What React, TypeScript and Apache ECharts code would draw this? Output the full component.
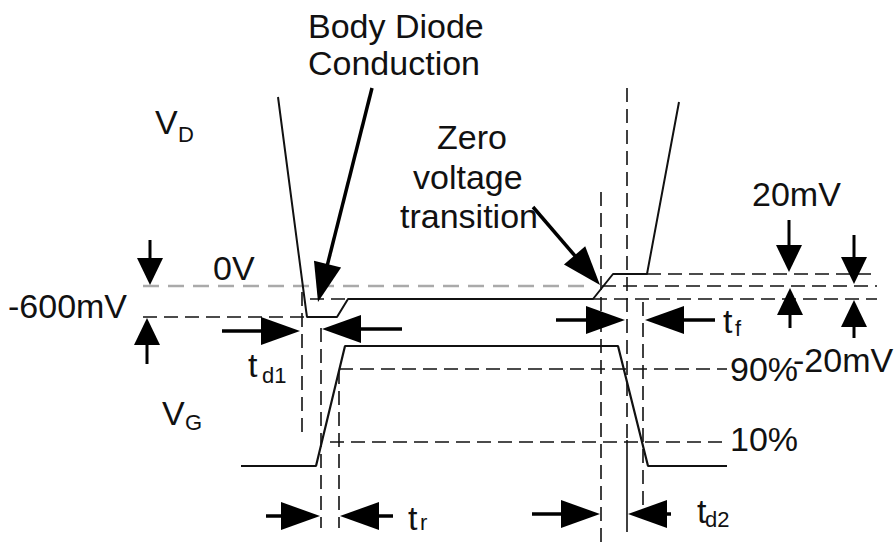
import React, { useEffect, useRef } from "react";
import * as echarts from "echarts";

// Diagram coordinates (x to the right, y downward), in diagram units.
const vdWave: number[][] = [
  [278, 97], [306, 310], [307, 317], [337, 317], [348, 299],
  [593, 299], [613, 274], [647, 274], [679, 102],
];
const vgWave: number[][] = [
  [241, 466], [316, 466], [345, 346], [618, 346], [648, 466], [727, 466],
];
const zeroVoltLine: number[][] = [[143, 286], [593, 286]];

const dashedGuides: number[][][] = [
  [[143, 317], [305, 317]],
  [[310, 299], [347, 299]],
  [[339, 369], [727, 369]],
  [[330, 442], [727, 442]],
  [[647, 274], [877, 274]],
  [[602, 286], [877, 286]],
  [[593, 299], [877, 299]],
  [[302, 292], [302, 433]],
  [[321, 328], [321, 528]],
  [[339, 370], [339, 528]],
  [[601, 192], [601, 542]],
  [[627, 88], [627, 440]],
  [[643, 302], [643, 508]],
];
const solidGuides: number[][][] = [
  [[627, 440], [627, 532]],
];

// [tailX, tailY, tipX, tipY]
const bigArrows: number[][] = [
  [372, 88, 318, 302],
  [533, 207, 600, 285],
  [222, 331, 300, 331],
  [402, 329, 322, 329],
  [266, 516, 320, 516],
  [393, 516, 340, 516],
  [556, 320, 625, 320],
  [715, 320, 645, 320],
  [532, 514, 600, 514],
  [671, 514, 628, 514],
];
const smallArrows: number[][] = [
  [150, 240, 150, 285],
  [147, 364, 147, 318],
  [789, 220, 789, 272],
  [790, 328, 790, 288],
  [854, 235, 854, 284],
  [854, 338, 854, 300],
];

// [x, y, text]
const mainLabels: [number, number, string][] = [
  [308, 26, "Body Diode"],
  [308, 63, "Conduction"],
  [437, 137, "Zero"],
  [413, 177, "voltage"],
  [400, 216, "transition"],
  [752, 194, "20mV"],
  [213, 268, "0V"],
  [8, 306, "-600mV"],
  [730, 369, "90%"],
  [793, 360, "-20mV"],
  [730, 439, "10%"],
  [155, 122, "V"],
  [162, 413, "V"],
  [248, 365, "t"],
  [408, 518, "t"],
  [723, 321, "t"],
  [697, 511, "t"],
];
const subLabels: [number, number, string][] = [
  [178, 134, "D"],
  [185, 422, "G"],
  [262, 375, "d1"],
  [420, 522, "r"],
  [735, 328, "f"],
  [705, 519, "d2"],
];

const FONT = "'Liberation Sans', Arial, Helvetica, sans-serif";

function lineSeries(points: number[][], style: any) {
  return {
    type: "line",
    data: points,
    symbol: "none",
    silent: true,
    lineStyle: style,
    z: 2,
  };
}

function arrowSeries(arrows: number[][], headLen: number, halfW: number, shaftW: number) {
  return {
    type: "custom",
    silent: true,
    clip: false,
    z: 5,
    encode: { x: [0, 2], y: [1, 3] },
    data: arrows,
    renderItem: (params: any, api: any) => {
      const a = api.coord([api.value(0), api.value(1)]);
      const b = api.coord([api.value(2), api.value(3)]);
      const dx = b[0] - a[0];
      const dy = b[1] - a[1];
      const len = Math.hypot(dx, dy) || 1;
      const ux = dx / len;
      const uy = dy / len;
      const hl = Math.min(headLen, len);
      const bx = b[0] - ux * hl;
      const by = b[1] - uy * hl;
      const px = -uy * halfW;
      const py = ux * halfW;
      return {
        type: "group",
        children: [
          {
            type: "line",
            shape: { x1: a[0], y1: a[1], x2: bx + ux * 2, y2: by + uy * 2 },
            style: { stroke: "#000", lineWidth: shaftW },
          },
          {
            type: "polygon",
            shape: { points: [[b[0], b[1]], [bx + px, by + py], [bx - px, by - py]] },
            style: { fill: "#000" },
          },
        ],
      };
    },
  };
}

function textSeries(labels: [number, number, string][], size: number) {
  return {
    type: "custom",
    silent: true,
    clip: false,
    z: 6,
    encode: { x: 0, y: 1 },
    data: labels.map((l) => [l[0], l[1]]),
    renderItem: (params: any, api: any) => {
      const p = api.coord([api.value(0), api.value(1)]);
      return {
        type: "text",
        x: p[0],
        y: p[1],
        style: {
          text: labels[params.dataIndex][2],
          fontSize: size,
          fontFamily: FONT,
          fill: "#111",
          align: "left",
          verticalAlign: "middle",
        },
      };
    },
  };
}

export default function App() {
  const ref = useRef<HTMLDivElement>(null);
  useEffect(() => {
    if (!ref.current) return;
    const chart = echarts.init(ref.current, null, { renderer: "svg" });
    const dashStyle = { color: "#111", width: 1.6, type: [14, 7] };
    const series: any[] = [];
    series.push(lineSeries(zeroVoltLine, { color: "#aaaaaa", width: 2.5, type: [16, 9] }));
    dashedGuides.forEach((seg) => series.push(lineSeries(seg, dashStyle)));
    solidGuides.forEach((seg) => series.push(lineSeries(seg, { color: "#111", width: 1.6 })));
    series.push(lineSeries(vdWave, { color: "#111", width: 2 }));
    series.push(lineSeries(vgWave, { color: "#111", width: 2.2 }));
    series.push(arrowSeries(bigArrows, 39, 14, 3.5));
    series.push(arrowSeries(smallArrows, 27, 13, 3));
    series.push(textSeries(mainLabels, 34));
    series.push(textSeries(subLabels, 22));

    chart.setOption({
      animation: false,
      backgroundColor: "#fff",
      grid: { left: 0, right: 0, top: 0, bottom: 0, containLabel: false },
      xAxis: { type: "value", min: 0, max: 894, show: false },
      yAxis: { type: "value", min: 0, max: 547, inverse: true, show: false },
      series,
    });
    return () => chart.dispose();
  }, []);
  return (
    <div
      ref={ref}
      style={{ position: "fixed", left: 0, top: 0, width: 894, height: 547, background: "#fff" }}
    />
  );
}
